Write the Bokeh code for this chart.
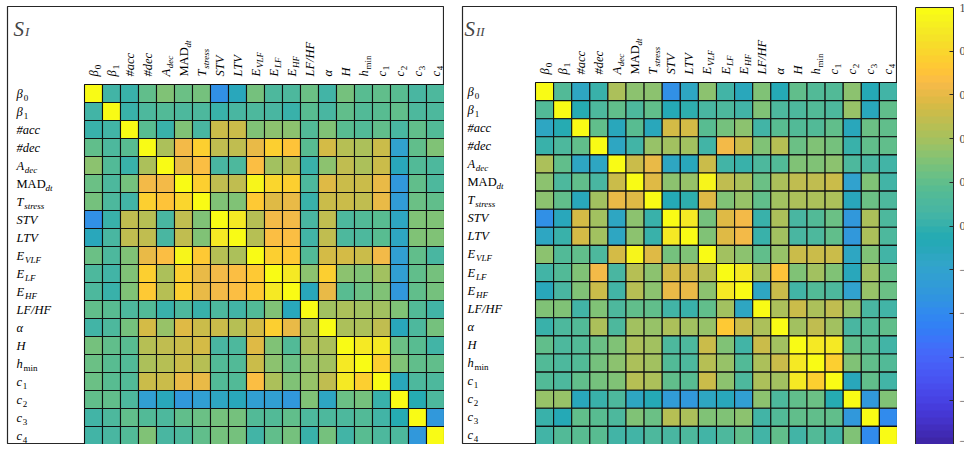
import numpy as np
from bokeh.plotting import figure
from bokeh.models import (ColumnDataSource, LinearColorMapper, ColorBar, FixedTicker,
                          Range1d, Label)
from bokeh.layouts import row
from bokeh.embed import file_html
from bokeh.resources import INLINE
from bokeh.core.properties import value
from bokeh.transform import transform

# ---------------- data ----------------
label_main = ["β", "β", "#acc", "#dec", "A", "MAD", "T", "STV", "LTV", "E", "E", "E",
              "LF/HF", "α", "H", "h", "c", "c", "c", "c"]
label_sub = ["0", "1", "", "", "dec", "dt", "stress", "", "", "VLF", "LF", "HF",
             "", "", "", "min", "1", "2", "3", "4"]
main_italic = [True, True, True, True, True, False, True, True, True, True, True, True,
               True, True, True, True, True, True, True, True]
sub_italic = [False, False, False, False, True, True, True, False, False, True, True, True,
              False, False, False, False, False, False, False, False]

S_I = [
    [1.00, 0.05, 0.00, 0.20, 0.30, 0.22, 0.28, -0.35, -0.10, 0.25, 0.12, 0.10, 0.22, 0.05, 0.27, 0.18, 0.20, 0.18, 0.08, 0.10],
    [0.05, 1.00, 0.02, 0.10, 0.15, 0.12, 0.10, 0.00, 0.08, 0.12, 0.08, 0.02, 0.18, 0.08, 0.20, 0.15, 0.18, 0.20, 0.10, 0.10],
    [0.00, 0.05, 1.00, 0.18, 0.02, 0.30, 0.08, 0.50, 0.50, 0.30, 0.32, 0.32, 0.15, 0.30, 0.18, 0.15, 0.20, 0.08, 0.20, 0.15],
    [0.20, 0.10, 0.18, 1.00, 0.42, 0.65, 0.75, 0.48, 0.48, 0.62, 0.75, 0.70, 0.18, 0.55, 0.45, 0.42, 0.50, -0.20, 0.20, 0.30],
    [0.32, 0.15, 0.03, 0.42, 1.00, 0.62, 0.68, 0.08, 0.10, 0.68, 0.40, 0.45, 0.02, 0.33, 0.48, 0.42, 0.50, -0.10, 0.15, 0.10],
    [0.22, 0.12, 0.28, 0.65, 0.63, 1.00, 0.78, 0.48, 0.48, 0.95, 0.80, 0.78, 0.10, 0.57, 0.52, 0.50, 0.60, -0.30, 0.20, 0.10],
    [0.28, 0.10, 0.05, 0.75, 0.70, 0.80, 1.00, 0.30, 0.30, 0.72, 0.58, 0.60, 0.02, 0.50, 0.52, 0.48, 0.60, -0.28, 0.22, 0.20],
    [-0.35, 0.00, 0.48, 0.45, 0.08, 0.48, 0.30, 1.00, 0.90, 0.45, 0.65, 0.65, 0.08, 0.48, 0.10, 0.15, 0.18, -0.15, 0.30, 0.30],
    [-0.12, 0.08, 0.48, 0.47, 0.08, 0.48, 0.30, 0.90, 1.00, 0.45, 0.68, 0.68, 0.05, 0.47, 0.10, 0.12, 0.18, -0.15, 0.30, 0.30],
    [0.22, 0.10, 0.30, 0.62, 0.68, 0.95, 0.72, 0.45, 0.42, 1.00, 0.75, 0.72, 0.15, 0.55, 0.55, 0.52, 0.65, -0.25, 0.20, 0.08],
    [0.10, 0.05, 0.30, 0.75, 0.42, 0.78, 0.60, 0.65, 0.68, 0.72, 1.00, 0.88, 0.33, 0.75, 0.32, 0.30, 0.40, -0.22, 0.20, 0.28],
    [0.10, 0.02, 0.30, 0.72, 0.45, 0.78, 0.62, 0.65, 0.67, 0.72, 0.88, 1.00, -0.12, 0.60, 0.18, 0.22, 0.30, -0.30, 0.20, 0.28],
    [0.20, 0.18, 0.12, 0.15, 0.02, 0.10, 0.03, 0.10, 0.05, 0.13, 0.30, -0.10, 1.00, 0.40, 0.42, 0.38, 0.40, 0.30, 0.15, 0.05],
    [0.05, 0.10, 0.28, 0.55, 0.35, 0.58, 0.50, 0.50, 0.45, 0.55, 0.75, 0.60, 0.42, 1.00, 0.42, 0.42, 0.48, -0.12, 0.12, 0.28],
    [0.28, 0.20, 0.18, 0.45, 0.47, 0.52, 0.55, 0.08, 0.10, 0.57, 0.30, 0.15, 0.42, 0.42, 1.00, 0.90, 0.90, 0.22, 0.18, 0.05],
    [0.22, 0.18, 0.15, 0.42, 0.45, 0.50, 0.45, 0.15, 0.15, 0.50, 0.32, 0.22, 0.35, 0.38, 0.90, 1.00, 0.77, 0.30, 0.20, 0.20],
    [0.22, 0.18, 0.15, 0.50, 0.50, 0.62, 0.62, 0.15, 0.15, 0.68, 0.42, 0.30, 0.35, 0.48, 0.90, 0.77, 1.00, -0.10, 0.10, 0.10],
    [0.20, 0.20, 0.10, -0.22, -0.12, -0.30, -0.22, -0.15, -0.12, -0.25, -0.22, -0.30, 0.30, -0.15, 0.22, 0.28, 0.00, 1.00, -0.05, 0.12],
    [0.05, 0.10, 0.20, 0.15, 0.10, 0.20, 0.22, 0.28, 0.28, 0.15, 0.15, 0.20, 0.12, 0.10, 0.12, 0.15, 0.05, -0.05, 1.00, -0.30],
    [0.05, 0.08, 0.15, 0.30, 0.08, 0.12, 0.20, 0.28, 0.28, 0.05, 0.20, 0.28, 0.03, 0.28, 0.05, 0.18, 0.10, 0.10, -0.30, 1.00],
]

S_II = [
    [1.00, 0.15, -0.15, 0.00, 0.42, 0.32, 0.32, -0.35, -0.15, 0.32, 0.05, -0.10, 0.30, -0.08, 0.20, 0.15, 0.15, 0.33, -0.08, 0.05],
    [0.15, 1.00, -0.05, 0.12, 0.20, 0.12, 0.20, -0.08, -0.02, 0.08, 0.12, 0.05, 0.30, 0.12, 0.12, 0.15, 0.10, 0.35, -0.10, 0.20],
    [-0.15, -0.05, 1.00, 0.20, -0.12, 0.18, -0.12, 0.55, 0.55, 0.18, 0.28, 0.32, 0.05, 0.18, 0.15, 0.15, 0.20, -0.10, 0.22, 0.20],
    [0.00, 0.12, 0.20, 1.00, -0.15, 0.05, 0.35, 0.40, 0.38, 0.05, 0.65, 0.52, 0.30, 0.45, 0.22, 0.30, 0.28, 0.00, 0.20, 0.20],
    [0.42, 0.20, -0.15, -0.15, 1.00, 0.52, 0.60, -0.15, -0.12, 0.52, 0.05, 0.00, 0.12, 0.15, 0.30, 0.30, 0.32, 0.12, 0.08, 0.05],
    [0.32, 0.12, 0.20, 0.08, 0.52, 1.00, 0.58, 0.32, 0.35, 0.95, 0.48, 0.42, 0.22, 0.42, 0.48, 0.48, 0.50, -0.20, 0.30, 0.05],
    [0.32, 0.20, -0.12, 0.38, 0.60, 0.58, 1.00, -0.08, -0.02, 0.57, 0.30, 0.35, 0.20, 0.38, 0.42, 0.42, 0.42, -0.10, 0.22, 0.12],
    [-0.35, -0.10, 0.55, 0.38, -0.15, 0.32, 0.00, 1.00, 0.90, 0.28, 0.58, 0.63, 0.00, 0.42, 0.08, 0.15, 0.22, -0.30, 0.42, 0.12],
    [-0.15, 0.00, 0.55, 0.38, -0.15, 0.32, 0.00, 0.90, 1.00, 0.30, 0.58, 0.63, 0.00, 0.38, 0.08, 0.12, 0.20, -0.30, 0.42, 0.12],
    [0.32, 0.15, 0.20, 0.10, 0.55, 0.95, 0.58, 0.28, 0.30, 1.00, 0.38, 0.32, 0.20, 0.35, 0.50, 0.50, 0.50, -0.15, 0.30, 0.05],
    [0.05, 0.15, 0.30, 0.65, 0.08, 0.45, 0.32, 0.55, 0.55, 0.45, 1.00, 0.88, 0.40, 0.70, 0.30, 0.40, 0.30, -0.10, 0.40, 0.20],
    [-0.12, 0.08, 0.30, 0.52, 0.05, 0.45, 0.32, 0.62, 0.62, 0.32, 0.88, 1.00, -0.15, 0.52, 0.05, 0.15, 0.10, -0.20, 0.35, 0.22],
    [0.30, 0.30, 0.05, 0.30, 0.12, 0.20, 0.20, 0.05, 0.00, 0.20, 0.40, -0.15, 1.00, 0.42, 0.52, 0.42, 0.48, 0.35, 0.08, 0.05],
    [0.00, 0.12, 0.15, 0.42, 0.12, 0.38, 0.35, 0.42, 0.38, 0.35, 0.72, 0.52, 0.42, 1.00, 0.40, 0.48, 0.40, 0.08, 0.15, 0.20],
    [0.20, 0.12, 0.15, 0.22, 0.30, 0.42, 0.40, 0.12, 0.10, 0.50, 0.30, 0.05, 0.50, 0.40, 1.00, 0.90, 0.90, 0.20, 0.18, 0.05],
    [0.15, 0.12, 0.15, 0.28, 0.32, 0.42, 0.40, 0.15, 0.12, 0.45, 0.35, 0.15, 0.42, 0.50, 0.90, 1.00, 0.77, 0.30, 0.20, 0.15],
    [0.15, 0.10, 0.20, 0.28, 0.30, 0.45, 0.42, 0.20, 0.18, 0.50, 0.32, 0.12, 0.42, 0.38, 0.90, 0.77, 1.00, -0.10, 0.20, 0.05],
    [0.35, 0.35, -0.12, 0.00, 0.12, -0.15, -0.08, -0.28, -0.30, -0.15, -0.12, -0.22, 0.33, 0.12, 0.20, 0.22, -0.05, 1.00, -0.30, 0.30],
    [0.00, -0.08, 0.20, 0.18, 0.12, 0.30, 0.22, 0.45, 0.42, 0.30, 0.30, 0.32, 0.05, 0.15, 0.20, 0.20, 0.20, -0.30, 1.00, -0.38],
    [0.05, 0.15, 0.18, 0.18, 0.05, 0.05, 0.12, 0.08, 0.12, 0.05, 0.12, 0.20, 0.05, 0.20, 0.05, 0.15, 0.05, 0.30, -0.38, 1.00],
]

cbar_ticks = [-1.0, -0.8, -0.6, -0.4, -0.2, 0.0, 0.2, 0.4, 0.6, 0.8, 1.0]

# ---------------- style ----------------
PARULA = [
    (0.2422, 0.1504, 0.6603), (0.2504, 0.1650, 0.7076), (0.2578, 0.1818, 0.7511), (0.2647, 0.1978, 0.7952),
    (0.2706, 0.2147, 0.8364), (0.2751, 0.2342, 0.8710), (0.2783, 0.2559, 0.8991), (0.2803, 0.2782, 0.9221),
    (0.2813, 0.3006, 0.9414), (0.2810, 0.3228, 0.9579), (0.2795, 0.3447, 0.9717), (0.2760, 0.3667, 0.9829),
    (0.2699, 0.3892, 0.9906), (0.2602, 0.4123, 0.9952), (0.2440, 0.4358, 0.9988), (0.2206, 0.4603, 0.9973),
    (0.1963, 0.4847, 0.9892), (0.1834, 0.5074, 0.9798), (0.1786, 0.5289, 0.9682), (0.1764, 0.5499, 0.9520),
    (0.1687, 0.5703, 0.9359), (0.1540, 0.5902, 0.9218), (0.1460, 0.6091, 0.9079), (0.1380, 0.6276, 0.8973),
    (0.1248, 0.6459, 0.8883), (0.1113, 0.6635, 0.8763), (0.0952, 0.6798, 0.8598), (0.0689, 0.6948, 0.8394),
    (0.0297, 0.7082, 0.8163), (0.0036, 0.7203, 0.7917), (0.0067, 0.7312, 0.7660), (0.0433, 0.7411, 0.7394),
    (0.0964, 0.7500, 0.7120), (0.1408, 0.7584, 0.6842), (0.1717, 0.7670, 0.6554), (0.1938, 0.7758, 0.6251),
    (0.2161, 0.7843, 0.5923), (0.2470, 0.7918, 0.5567), (0.2906, 0.7973, 0.5188), (0.3406, 0.8008, 0.4789),
    (0.3909, 0.8029, 0.4354), (0.4456, 0.8024, 0.3909), (0.5044, 0.7993, 0.3480), (0.5616, 0.7942, 0.3045),
    (0.6174, 0.7876, 0.2612), (0.6720, 0.7793, 0.2227), (0.7242, 0.7698, 0.1910), (0.7738, 0.7598, 0.1646),
    (0.8203, 0.7498, 0.1535), (0.8634, 0.7406, 0.1596), (0.9035, 0.7330, 0.1774), (0.9393, 0.7288, 0.2100),
    (0.9728, 0.7298, 0.2394), (0.9956, 0.7434, 0.2371), (0.9970, 0.7659, 0.2199), (0.9952, 0.7893, 0.2028),
    (0.9892, 0.8136, 0.1885), (0.9786, 0.8386, 0.1766), (0.9676, 0.8639, 0.1643), (0.9610, 0.8890, 0.1537),
    (0.9597, 0.9135, 0.1423), (0.9628, 0.9373, 0.1265), (0.9691, 0.9606, 0.1064), (0.9769, 0.9839, 0.0805),
]


def soften(rgb, t):
    # the reference rendering shows the green middle of the map somewhat muted
    s = float(np.interp(t, [0.0, 0.3, 0.45, 0.75, 0.86, 1.0], [1.0, 0.95, 0.72, 0.72, 1.0, 1.0]))
    r, g, b = rgb
    lum = 0.299 * r + 0.587 * g + 0.114 * b
    return tuple(min(1.0, max(0.0, lum + s * (c - lum))) for c in rgb)


palette = []
for k, rgb in enumerate(PARULA):
    c = soften(rgb, k / (len(PARULA) - 1))
    palette.append("#%02x%02x%02x" % tuple(int(round(v * 255)) for v in c))
mapper = LinearColorMapper(palette=palette, low=-1, high=1)

FONT = "Liberation Serif"
MAIN_SIZE = 12.5
SUB_SIZE = 9
main_width = {"β": 6.8, "A": 7.8, "MAD": 28.5, "T": 7.2, "E": 8.0, "h": 6.4, "c": 5.8}

TOP = 6     # space above the panels (px)
H = 438     # panel frame height (px)


def add_texts(p, xs, ys, texts, italic, size, angle=0.0, x_off=None, y_off=None,
              align="left", baseline="middle"):
    n = len(texts)
    x_off = x_off if x_off is not None else [0] * n
    y_off = y_off if y_off is not None else [0] * n
    for style in ("italic", "normal"):
        idx = [i for i in range(n) if texts[i] and ((style == "italic") == italic[i])]
        if not idx:
            continue
        src = ColumnDataSource(dict(x=[xs[i] for i in idx], y=[ys[i] for i in idx],
                                    t=[texts[i] for i in idx],
                                    xo=[x_off[i] for i in idx], yo=[y_off[i] for i in idx]))
        p.text(x="x", y="y", text="t", x_offset="xo", y_offset="yo", source=src,
               angle=angle, text_font=value(FONT), text_font_style=style,
               text_font_size=f"{size}px", text_align=align, text_baseline=baseline,
               text_color="black")


def panel(M, sub_title, frame_w, border_left, left_px, cell_w, cell_h,
          row_label_px, title_x):
    n = len(M)
    top_px = H - n * cell_h
    p = figure(width=frame_w + border_left, height=H + TOP, output_backend="svg",
               toolbar_location=None, x_axis_location=None, y_axis_location=None,
               min_border=0, min_border_left=border_left, min_border_top=TOP,
               x_range=Range1d(-left_px / cell_w, n), y_range=Range1d(0, n + top_px / cell_h))
    p.grid.visible = False
    p.outline_line_color = "#262626"
    p.outline_line_width = 1.2
    p.background_fill_color = "white"
    p.border_fill_color = "white"

    xs, ys, vs = [], [], []
    for i in range(n):
        for j in range(n):
            xs.append(j + 0.5)
            ys.append(n - i - 0.5)
            vs.append(M[i][j])
    src = ColumnDataSource(dict(x=xs, y=ys, v=vs))
    p.rect(x="x", y="y", width=1, height=1, source=src,
           fill_color=transform("v", mapper), line_color="#111111", line_width=1.1)

    # row labels (left)
    rx = -left_px / cell_w + row_label_px / cell_w
    ry = [n - i - 0.5 for i in range(n)]
    add_texts(p, [rx] * n, ry, label_main, main_italic, MAIN_SIZE)
    sub_x_off = [main_width.get(label_main[i], 0) + 0.5 for i in range(n)]
    add_texts(p, [rx] * n, ry, label_sub, sub_italic, SUB_SIZE,
              x_off=sub_x_off, y_off=[4] * n)

    # column labels (top, rotated)
    cx = [j + 0.5 for j in range(n)]
    cy = n + 8 / cell_h
    add_texts(p, cx, [cy] * n, label_main, main_italic, MAIN_SIZE, angle=np.pi / 2)
    add_texts(p, cx, [cy] * n, label_sub, sub_italic, SUB_SIZE, angle=np.pi / 2,
              x_off=[4] * n, y_off=[-w for w in sub_x_off])

    # panel title
    p.add_layout(Label(x=title_x, y=H - 22, x_units="screen", y_units="screen", text="S",
                       text_font=FONT, text_font_style="italic", text_font_size="21px",
                       text_baseline="alphabetic"))
    p.add_layout(Label(x=title_x + 11.5, y=H - 25, x_units="screen", y_units="screen",
                       text=sub_title, text_font=FONT, text_font_style="italic",
                       text_font_size="13px", text_baseline="alphabetic"))
    return p


p1 = panel(S_I, "I", frame_w=437, border_left=7, left_px=77,
           cell_w=18.0, cell_h=18.0, row_label_px=9, title_x=6)
p2 = panel(S_II, "II", frame_w=435, border_left=18, left_px=73,
           cell_w=18.1, cell_h=18.1, row_label_px=5, title_x=2)

# colorbar
p3 = figure(width=67, height=H + TOP, output_backend="svg", toolbar_location=None,
            x_axis_location=None, y_axis_location=None, min_border=0, min_border_top=TOP,
            x_range=Range1d(0, 1), y_range=Range1d(0, 1))
p3.grid.visible = False
p3.outline_line_color = None
cb = ColorBar(color_mapper=mapper, location=(18, 0), width=38, height=H - 1,
              padding=0, margin=0, ticker=FixedTicker(ticks=cbar_ticks),
              bar_line_color="#262626", bar_line_width=1,
              major_tick_in=4, major_tick_out=0, major_tick_line_color="#262626",
              minor_tick_line_color=None,
              major_label_text_font=FONT, major_label_text_font_size="12px",
              label_standoff=6, background_fill_color=None, border_line_color=None)
p3.add_layout(cb, "center")

layout = row(p1, p2, p3)
open("out.html", "w").write(file_html(layout, INLINE))
